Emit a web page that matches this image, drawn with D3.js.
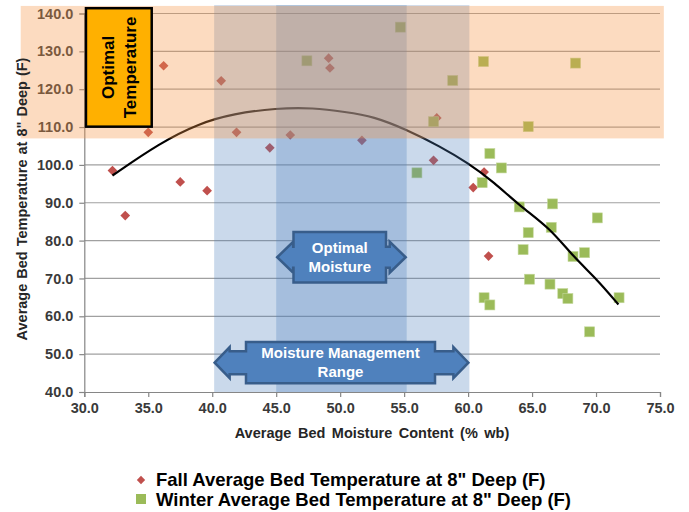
<!DOCTYPE html>
<html>
<head>
<meta charset="utf-8">
<script src="https://cdn.jsdelivr.net/npm/d3@7"></script>
<style>
  html, body { margin: 0; padding: 0; background: #ffffff; }
  svg { display: block; font-family: "Liberation Sans", Arial, sans-serif; }
</style>
</head>
<body>
<svg id="chart" width="689" height="512"></svg>
<script>
// ---------- data ----------
const fallMoisture = [32.2, 33.2, 35.0, 36.2, 37.5, 39.6, 40.7, 41.9, 44.5, 46.1, 49.1, 49.2, 51.7, 57.3, 57.55, 60.4, 61.25, 61.6];
const fallTemp     = [98.5, 86.6, 108.6, 126.2, 95.5, 93.2, 122.2, 108.6, 104.5, 107.9, 128.2, 125.6, 106.5, 101.2, 112.4, 94.0, 98.1, 75.9];

const winterMoisture = [47.4, 54.7, 61.2, 68.4, 58.8, 57.3, 64.7, 61.7, 62.6, 56.0, 61.1, 66.6, 64.0, 70.1, 66.5, 64.7, 64.3, 69.1, 68.2, 64.8, 66.4, 67.4, 67.8, 61.25, 61.7, 71.8, 69.5];
const winterTemp     = [127.5, 136.4, 127.3, 126.9, 122.3, 111.4, 110.1, 103.0, 99.2, 97.9, 95.3, 89.7, 88.9, 86.0, 83.5, 82.1, 77.6, 76.8, 75.8, 69.8, 68.5, 66.0, 64.7, 64.9, 63.0, 64.9, 55.9];

// trend line
const trendMoisture = [32.2, 35.9, 39.0, 41.65, 45.0, 47.9, 50.4, 52.6, 55.2, 57.8, 60.0, 62.0, 64.1, 66.4, 68.2, 70.1, 71.75];
const trendTemp     = [97.2, 105.8, 111.0, 113.5, 115.0, 115.1, 114.0, 112.8, 109.3, 104.9, 100.5, 95.5, 89.0, 83.3, 75.8, 69.7, 63.1];

const xTicks = [30, 35, 40, 45, 50, 55, 60, 65, 70, 75];
const yTicks = [40, 50, 60, 70, 80, 90, 100, 110, 120, 130, 140];

const moistureRange   = [40.15, 60.1];   // Moisture Management Range
const optimalMoisture = [45.0, 55.2];    // Optimal Moisture
const optimalTemp     = [107, 142];      // Optimal Temperature band

const seriesNames = ["Fall Average Bed Temperature at 8\" Deep (F)", "Winter Average Bed Temperature at 8\" Deep (F)"];

// ---------- layout ----------
const svg = d3.select("#chart");
const x = d3.scaleLinear().domain([30, 75]).range([84.3, 660]);
const y = d3.scaleLinear().domain([40, 140]).range([392, 13.5]);
const FONT = "'Liberation Sans', Arial, sans-serif";

const fall = fallMoisture.map((m, i) => ({m, t: fallTemp[i]}));
const winter = winterMoisture.map((m, i) => ({m, t: winterTemp[i]}));
const trend = trendMoisture.map((m, i) => ({m, t: trendTemp[i]}));

// gridlines
svg.append("g").selectAll("line").data(yTicks.filter(v => v > 40)).join("line")
  .attr("x1", x(30)).attr("x2", x(75))
  .attr("y1", d => y(d)).attr("y2", d => y(d))
  .attr("stroke", "#a0a0a0").attr("stroke-width", 1.2);

// axes
const yAxis = svg.append("g").attr("transform", `translate(${x(30)},0)`)
  .call(d3.axisLeft(y).tickValues(yTicks).tickFormat(d3.format(".1f")).tickSize(5).tickPadding(6));
const xAxis = svg.append("g").attr("transform", `translate(0,${y(40)})`)
  .call(d3.axisBottom(x).tickValues(xTicks).tickFormat(d3.format(".1f")).tickSize(5).tickPadding(6));
[xAxis, yAxis].forEach(a => {
  a.select(".domain").attr("stroke", "#868686").attr("stroke-width", 1.2);
  a.selectAll(".tick line").attr("stroke", "#868686").attr("stroke-width", 1.2);
  a.selectAll("text").attr("font-family", FONT).attr("font-size", 14.5)
    .attr("font-weight", "bold").attr("fill", "#3a3a3a");
});

// markers
const diamond = d3.symbol().type(d3.symbolDiamond2).size(60);
svg.append("g").selectAll("path").data(fall).join("path")
  .attr("d", diamond)
  .attr("transform", d => `translate(${x(d.m)},${y(d.t)})`)
  .attr("fill", "#C0504D");
svg.append("g").selectAll("rect").data(winter).join("rect")
  .attr("x", d => x(d.m) - 5).attr("y", d => y(d.t) - 5)
  .attr("width", 10).attr("height", 10)
  .attr("fill", "#9BBB59").attr("stroke", "#c4d89c").attr("stroke-width", 0.6);

// trend line
svg.append("path").datum(trend)
  .attr("d", d3.line().x(d => x(d.m)).y(d => y(d.t)).curve(d3.curveBasis))
  .attr("fill", "none").attr("stroke", "#000").attr("stroke-width", 2.2);

// translucent bands
svg.append("rect")
  .attr("x", x(moistureRange[0])).attr("width", x(moistureRange[1]) - x(moistureRange[0]))
  .attr("y", y(142.2)).attr("height", y(40) - y(142.2))
  .attr("fill", "#4F81BD").attr("fill-opacity", 0.3);
svg.append("rect")
  .attr("x", x(optimalMoisture[0])).attr("width", x(optimalMoisture[1]) - x(optimalMoisture[0]))
  .attr("y", y(142.2)).attr("height", y(40) - y(142.2))
  .attr("fill", "#4F81BD").attr("fill-opacity", 0.3);
svg.append("rect")
  .attr("x", x(25.03)).attr("width", x(75.3) - x(25.03))
  .attr("y", y(optimalTemp[1])).attr("height", y(optimalTemp[0]) - y(optimalTemp[1]))
  .attr("fill", "#F79646").attr("fill-opacity", 0.34);

// Optimal Temperature box
const bx0 = x(30.13), bx1 = x(35.27), by0 = y(141.4), by1 = y(110.1);
svg.append("rect").attr("x", bx0).attr("y", by0).attr("width", bx1 - bx0).attr("height", by1 - by0)
  .attr("fill", "#FFB000").attr("stroke", "#000").attr("stroke-width", 2.5);
const bcx = (bx0 + bx1) / 2, bcy = (by0 + by1) / 2;
const bt = svg.append("text").attr("transform", `translate(${bcx},${bcy}) rotate(-90)`)
  .attr("text-anchor", "middle").attr("font-family", FONT).attr("font-weight", "bold")
  .attr("font-size", 17).attr("fill", "#000");
bt.append("tspan").attr("x", 0).attr("y", -5).text("Optimal");
bt.append("tspan").attr("x", 0).attr("y", 17).text("Temperature");

// double-arrow callouts
function callout(tipL, tipR, bodyL, bodyR, top, bottom, headLen, headHalf, shaftHalf, lines, fs, lh) {
  const cy = (top + bottom) / 2;
  const bL = tipL + headLen, bR = tipR - headLen;
  const p = d3.path();
  p.moveTo(tipL, cy);
  p.lineTo(bL, cy - headHalf); p.lineTo(bL, cy - shaftHalf); p.lineTo(bodyL, cy - shaftHalf);
  p.lineTo(bodyL, top); p.lineTo(bodyR, top); p.lineTo(bodyR, cy - shaftHalf);
  p.lineTo(bR, cy - shaftHalf); p.lineTo(bR, cy - headHalf); p.lineTo(tipR, cy);
  p.lineTo(bR, cy + headHalf); p.lineTo(bR, cy + shaftHalf); p.lineTo(bodyR, cy + shaftHalf);
  p.lineTo(bodyR, bottom); p.lineTo(bodyL, bottom); p.lineTo(bodyL, cy + shaftHalf);
  p.lineTo(bL, cy + shaftHalf); p.lineTo(bL, cy + headHalf); p.closePath();
  svg.append("path").attr("d", p.toString())
    .attr("fill", "#4F81BD").attr("stroke", "#385D8A").attr("stroke-width", 2.5)
    .attr("stroke-linejoin", "miter");
  const cx = (bodyL + bodyR) / 2;
  const t = svg.append("text").attr("text-anchor", "middle").attr("font-family", FONT)
    .attr("font-weight", "bold").attr("font-size", fs).attr("fill", "#fff");
  const n = lines.length;
  lines.forEach((s, i) => {
    t.append("tspan").attr("x", cx).attr("y", cy + (i - (n - 1) / 2) * lh + fs * 0.35).text(s);
  });
}
callout(x(optimalMoisture[0]) + 1, x(optimalMoisture[1]) - 1, 293.5, 386, y(82.3), y(68.9), 16, 15.5, 10.5,
  ["Optimal", "Moisture"], 15, 19);
callout(x(moistureRange[0]) + 0.5, x(moistureRange[1]) - 1, 246, 435, y(53.2), y(40 + 2.3), 15, 15.5, 11.5,
  ["Moisture  Management", "Range"], 15, 19);

// axis titles
svg.append("text").attr("x", 372).attr("y", 438).attr("text-anchor", "middle")
  .attr("font-family", FONT).attr("font-weight", "bold").attr("font-size", 14.5).attr("fill", "#262626")
  .attr("word-spacing", 2.5)
  .text("Average Bed Moisture Content (% wb)");
svg.append("text").attr("transform", "translate(27,199) rotate(-90)").attr("text-anchor", "middle")
  .attr("font-family", FONT).attr("font-weight", "bold").attr("font-size", 14.5).attr("fill", "#262626")
  .attr("word-spacing", 1)
  .text("Average Bed Temperature at 8\" Deep (F)");

// legend
const lg = svg.append("g");
lg.append("path").attr("d", d3.symbol().type(d3.symbolDiamond2).size(44))
  .attr("transform", "translate(141,480)").attr("fill", "#C0504D");
lg.append("rect").attr("x", 136).attr("y", 494).attr("width", 10).attr("height", 10).attr("fill", "#9BBB59");
lg.selectAll("text").data(seriesNames).join("text")
  .attr("x", 156).attr("y", (d, i) => 486 + i * 19.5)
  .attr("font-family", FONT).attr("font-weight", "bold").attr("font-size", 18.5).attr("fill", "#000")
  .text(d => d);
</script>
</body>
</html>
